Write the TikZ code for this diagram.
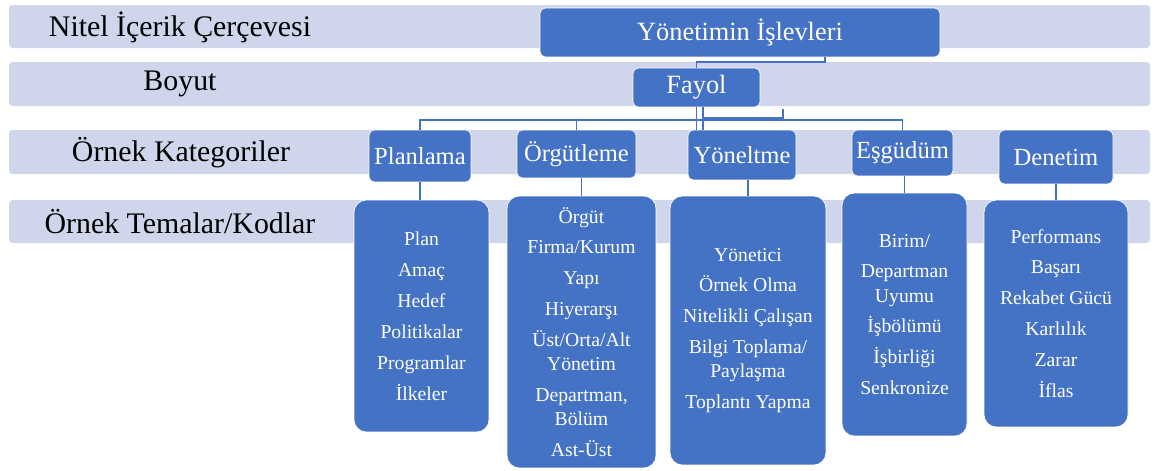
\documentclass[tikz,border=0pt]{standalone}
\usepackage{fontspec}
\setmainfont{LiberationSerif}[Extension=.ttf,UprightFont=*-Regular,BoldFont=*-Bold,ItalicFont=*-Italic,BoldItalicFont=*-BoldItalic]
\usepackage{xcolor}
\definecolor{kutu}{HTML}{4472C4}
\definecolor{bant}{HTML}{CFD5EA}

\begin{document}
\begin{tikzpicture}[x=0.02cm,y=-0.02cm,
  bantyazi/.style={font=\rmfamily\fontsize{17}{20}\selectfont},
  anakutu/.style={draw=white,fill=kutu,text=white,rounded corners=3pt,inner sep=0pt,font=\rmfamily\fontsize{15}{18}\selectfont},
  katkutu/.style={draw=white,fill=kutu,text=white,rounded corners=3pt,inner sep=0pt,font=\rmfamily\fontsize{14}{17}\selectfont},
  temakutu/.style={draw=white,fill=kutu,text=white,rounded corners=7pt,inner sep=0pt,align=center,font=\rmfamily\fontsize{11.2}{13.7}\selectfont},
  baglanti/.style={draw=kutu,line width=0.6pt}]
\useasboundingbox (0,0) rectangle (1156,470);
%bantlar
\fill[bant,rounded corners=2pt](9,5) rectangle (1150,48);
\fill[bant,rounded corners=2pt](9,62) rectangle (1150,106);
\fill[bant,rounded corners=2pt](9,130) rectangle (1150,174);
\fill[bant,rounded corners=2pt](9,200) rectangle (1150,243);
\node[bantyazi] (nitel) at (180,27){Nitel İçerik Çerçevesi};
\node[bantyazi] (boyut) at (180,84){Boyut};
\node[bantyazi] (kategori) at (181,153){Örnek Kategoriler};
\node[bantyazi] (tema) at (180,222){Örnek Temalar/Kodlar};
%ust kutular
\node[anakutu,minimum width=8cm,minimum height=0.98cm] (islev) at (740,32.5){Yönetimin İşlevleri};
\node[anakutu,minimum width=2.54cm,minimum height=0.78cm] (fayol) at (696.5,87.5){Fayol};
%kategoriler
\node[katkutu,minimum width=2.04cm,minimum height=1.04cm] (planlama) at (420,156){Planlama};
\node[katkutu,minimum width=2.38cm,minimum height=0.96cm] (orgutleme) at (576.5,154){Örgütleme};
\node[katkutu,minimum width=2.16cm,minimum height=1.00cm] (yoneltme) at (742,155){Yöneltme};
\node[katkutu,minimum width=2.02cm,minimum height=0.92cm] (esgudum) at (902.5,153){Eşgüdüm};
\node[katkutu,minimum width=2.28cm,minimum height=1.08cm] (denetim) at (1056,157){Denetim};
%temalar
\node[temakutu,minimum width=2.70cm,minimum height=4.64cm] (plan) at (421.5,316){Plan\\[3.9pt]Amaç\\[3.9pt]Hedef\\[3.9pt]Politikalar\\[3.9pt]Programlar\\[3.9pt]İlkeler};
\node[temakutu,minimum width=2.98cm,minimum height=5.44cm] (orgut) at (581.5,332){Örgüt\\[3.9pt]Firma/Kurum\\[3.9pt]Yapı\\[3.9pt]Hiyerarşı\\[3.9pt]Üst/Orta/Alt\\Yönetim\\[3.9pt]Departman,\\Bölüm\\[3.9pt]Ast-Üst};
\node[temakutu,minimum width=3.12cm,minimum height=5.38cm] (yonetici) at (748,330.5){Yönetici\\[3.9pt]Örnek Olma\\[3.9pt]Nitelikli Çalışan\\[3.9pt]Bilgi Toplama/\\Paylaşma\\[3.9pt]Toplantı Yapma};
\node[temakutu,minimum width=2.50cm,minimum height=4.86cm] (birim) at (904.5,314.5){Birim/\\[3.9pt]Departman\\Uyumu\\[3.9pt]İşbölümü\\[3.9pt]İşbirliği\\[3.9pt]Senkronize};
\node[temakutu,minimum width=2.88cm,minimum height=4.54cm] (perf) at (1056,313.5){Performans\\[3.9pt]Başarı\\[3.9pt]Rekabet Gücü\\[3.9pt]Karlılık\\[3.9pt]Zarar\\[3.9pt]İflas};
%baglantilar
\coordinate (k1) at (825,62);
\coordinate (bar) at (700,120);
\coordinate (k2) at (703,118);
\coordinate (k3) at (783,109);
\draw[baglanti](islev.south -| k1) -- (k1) -| (fayol.north);
\draw[baglanti](fayol.south) -- (fayol.south |- yoneltme.north);
\draw[baglanti](fayol.south -| k2) -- (yoneltme.north -| k2);
\draw[baglanti](k2) -| (k3);
\draw[baglanti](planlama.north) |- (bar) -| (esgudum.north);
\draw[baglanti](orgutleme.north) -- (orgutleme.north |- bar);
\draw[baglanti](planlama.south) -- (planlama.south |- plan.north);
\draw[baglanti](orgutleme.south -| orgut.north) -- (orgut.north);
\draw[baglanti](yoneltme.south -| yonetici.north) -- (yonetici.north);
\draw[baglanti](esgudum.south -| birim.north) -- (birim.north);
\draw[baglanti](denetim.south) -- (denetim.south |- perf.north);
\end{tikzpicture}
\end{document}
